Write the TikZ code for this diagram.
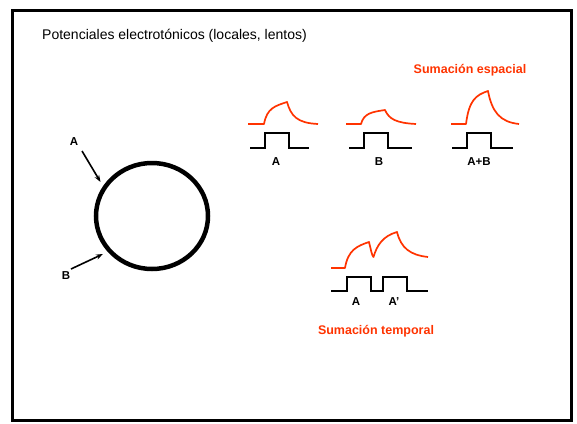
\documentclass[tikz,border=0pt]{standalone}
\usepackage{fontspec}
\setmainfont{Liberation Sans}
\usetikzlibrary{arrows.meta,shapes.geometric}
\definecolor{sred}{RGB}{255,51,0}
\begin{document}
\begin{tikzpicture}[x=1pt,y=-1pt,
  resp/.style={draw=sred,line width=1.7pt,line join=round},
  pulse/.style={draw=black,line width=1.8pt,line join=miter},
  lbl/.style={font=\fontsize{11.5}{13}\selectfont\bfseries,inner sep=0pt},
  ttl/.style={font=\fontsize{12.5}{15}\selectfont\bfseries,text=sred,inner sep=0pt},
  arr/.style={-{Stealth[length=7pt,width=5pt]},line width=1.6pt}]
\useasboundingbox (0,0) rectangle (577,423);
\draw[line width=2.5pt] (12.5,10.5) rectangle (571.5,420.5);
\node[anchor=west,inner sep=0pt,font=\fontsize{14}{16}\selectfont] (title) at (42,36) {Potenciales electrotónicos (locales, lentos)};
% cell
\node[draw,ellipse,line width=4.5pt,minimum width=112pt,minimum height=106pt,inner sep=0pt] (cell) at (152,216) {};
\node[lbl] (la) at (74,142) {A};
\node[lbl] (lb) at (66,276) {B};
\coordinate (aS) at (82,151);
\coordinate (aE) at (100.5,182);
\coordinate (bS) at (71,269);
\coordinate (bE) at (103,254);
\draw[arr] (aS) -- (aE);
\draw[arr] (bS) -- (bE);
% spatial summation
\node[ttl] (esp) at (470,70) {Sumación espacial};
\draw[resp] (248,124) -- (264,124) .. controls (267,108) and (275,106) .. (287,102) .. controls (291,116) and (297,123) .. (318,124);
\draw[pulse] (250,148) -- (265,148) -- (265,133) -- (289,133) -- (289,148) -- (309,148);
\node[lbl] (pa) at (276,162) {A};
\draw[resp] (346,124) -- (361,124) .. controls (364,113) and (372,112) .. (385,110) .. controls (389,119) and (396,123) .. (416,124);
\draw[pulse] (349,148) -- (364,148) -- (364,133) -- (388,133) -- (388,148) -- (412,148);
\node[lbl] (pb) at (379,162) {B};
\draw[resp] (451,124) -- (466,124) .. controls (469,100) and (476,95) .. (488,91) .. controls (492,112) and (500,122) .. (519,124);
\draw[pulse] (452,148) -- (467,148) -- (467,133) -- (491,133) -- (491,148) -- (513,148);
\node[lbl] (pab) at (479,162) {A+B};
% temporal summation
\draw[resp] (331,268) -- (345,268) .. controls (348,250) and (357,246) .. (369,242) .. controls (371,250) and (372,256) .. (373.5,257) .. controls (377,245) and (383,236) .. (397,232) .. controls (401,248) and (410,255) .. (428,257);
\draw[pulse] (331,291) -- (347,291) -- (347,277) -- (371,277) -- (371,291) -- (383,291) -- (383,277) -- (407,277) -- (407,291) -- (428,291);
\node[lbl] (ta) at (356,302) {A};
\node[lbl] (tap) at (394,302) {A'};
\node[ttl] (tem) at (376,331) {Sumación temporal};
\end{tikzpicture}
\end{document}
